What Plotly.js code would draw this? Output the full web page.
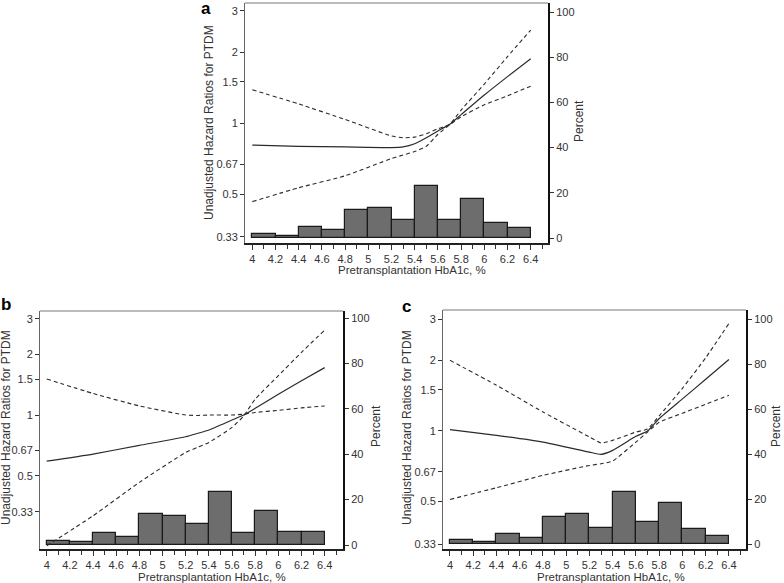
<!DOCTYPE html>
<html>
<head>
<meta charset="utf-8">
<script src="https://cdn.plot.ly/plotly-3.0.1.min.js"></script>
<style>
  html, body { margin: 0; padding: 0; background: #fff; }
  #chart { width: 784px; height: 583px; }
</style>
</head>
<body>
<div id="chart"></div>
<script>
// Гистограмма: центры интервалов HbA1c (шаг 0.2)
const binCenters = [4.1, 4.3, 4.5, 4.7, 4.9, 5.1, 5.3, 5.5, 5.7, 5.9, 6.1, 6.3];
const pctA = [1.8, 0.9, 4.7, 3.5, 12.6, 13.5, 7.9, 23.2, 8.2, 17.2, 6.7, 4.4];
const pctB = [1.8, 1.2, 5.1, 3.5, 13.7, 12.8, 9.1, 23.3, 5.3, 14.8, 5.7, 5.7];
const pctC = [1.8, 0.7, 4.3, 2.7, 11.9, 13.3, 7.0, 23.0, 9.6, 18.2, 6.5, 3.4];

// Кривые отношения рисков (HR) и доверительные границы
const xA = [4, 4.4, 4.8, 5.2, 5.3, 5.4, 5.5, 5.6, 5.7, 5.8, 6.0, 6.2, 6.4];
const hrA = [0.81, 0.80, 0.795, 0.79, 0.795, 0.82, 0.87, 0.93, 0.99, 1.09, 1.32, 1.58, 1.88];
const upA = [1.39, 1.21, 1.04, 0.885, 0.87, 0.875, 0.905, 0.95, 0.99, 1.14, 1.47, 1.92, 2.49];
const loA = [0.466, 0.534, 0.60, 0.71, 0.735, 0.76, 0.80, 0.90, 0.985, 1.067, 1.2, 1.31, 1.44];

const xB = [4, 4.4, 4.8, 5.2, 5.3, 5.4, 5.6, 5.7, 5.8, 6.0, 6.2, 6.4];
const hrB = [0.59, 0.64, 0.707, 0.78, 0.81, 0.843, 0.945, 1.0, 1.08, 1.27, 1.48, 1.72];
const upB = [1.51, 1.28, 1.11, 1.0, 0.995, 1.0, 1.0, 1.01, 1.03, 1.055, 1.085, 1.11];
const loB = [0.224, 0.316, 0.463, 0.652, 0.69, 0.731, 0.868, 0.99, 1.20, 1.57, 2.05, 2.64];

const xC = [4, 4.4, 4.8, 5.2, 5.3, 5.4, 5.6, 5.7, 5.8, 6.0, 6.2, 6.4];
const hrC = [1.013, 0.958, 0.897, 0.813, 0.795, 0.827, 0.949, 1.0, 1.13, 1.37, 1.66, 2.016];
const upC = [2.0, 1.567, 1.205, 0.943, 0.889, 0.912, 0.99, 1.02, 1.16, 1.52, 2.05, 2.87];
const loC = [0.511, 0.573, 0.647, 0.713, 0.725, 0.745, 0.897, 0.99, 1.09, 1.19, 1.30, 1.42];

const hrTicks = [0.33, 0.5, 0.67, 1, 1.5, 2, 3];
const hrTickText = ['0.33', '0.5', '0.67', '1', '1.5', '2', '3'];
const pctTicks = [0, 20, 40, 60, 80, 100];
const xTicks = [4, 4.2, 4.4, 4.6, 4.8, 5, 5.2, 5.4, 5.6, 5.8, 6, 6.2, 6.4];

const FONT = 'Liberation Sans, Arial, sans-serif';
const TXT = '#333333';
const W = 784, H = 583;

function panelTraces(xs, pct, hr, up, lo, xa, yPct, yHr) {
    const bars = {
        x: binCenters, y: pct, type: 'bar', width: 0.2,
        xaxis: xa, yaxis: yPct,
        marker: { color: '#6d6d6d', line: { color: '#1a1a1a', width: 1.2 } },
        hoverinfo: 'skip'
    };
    const mk = (y, dash, w) => ({
        x: xs, y: y, type: 'scatter', mode: 'lines',
        xaxis: xa, yaxis: yHr,
        line: { color: '#2a2a2a', width: w, dash: dash, shape: 'spline', smoothing: 0.5 }
    });
    return [bars, mk(hr, 'solid', 1.2), mk(up, '4px,3px', 1.1), mk(lo, '4px,3px', 1.1)];
}

const data = [].concat(
    panelTraces(xA, pctA, hrA, upA, loA, 'x', 'y', 'y2'),
    panelTraces(xB, pctB, hrB, upB, loB, 'x2', 'y3', 'y4'),
    panelTraces(xC, pctC, hrC, upC, loC, 'x3', 'y5', 'y6')
);

function xAxis(domain, range, anchor) {
    return {
        domain: domain, range: range, anchor: anchor,
        tickvals: xTicks, ticks: 'outside', ticklen: 5, tickwidth: 1, tickcolor: '#333',
        minor: { dtick: 0.1, tick0: 4, ticks: 'outside', ticklen: 4, tickcolor: '#333' },
        showline: true, linecolor: '#222', linewidth: 1.5,
        showgrid: false, zeroline: false,
        tickfont: { family: FONT, size: 11, color: TXT }
    };
}
function pctAxis(domain, range, anchor) {
    return {
        domain: domain, range: range, anchor: anchor, side: 'right',
        tickvals: pctTicks, ticks: 'outside', ticklen: 4, tickcolor: '#333',
        showline: true, linecolor: '#111', linewidth: 2,
        showgrid: false, zeroline: false,
        tickfont: { family: FONT, size: 11, color: TXT }
    };
}
function hrAxis(overlay, range, anchor) {
    return {
        overlaying: overlay, anchor: anchor, side: 'left', type: 'log', range: range,
        tickvals: hrTicks, ticktext: hrTickText, ticks: 'outside', ticklen: 4, tickcolor: '#333',
        showline: true, linecolor: '#666', linewidth: 1,
        showgrid: false, zeroline: false,
        tickfont: { family: FONT, size: 11, color: TXT }
    };
}
function topLine(xref, yref) {
    return { type: 'line', xref: xref + ' domain', yref: yref + ' domain',
        x0: 0, x1: 1, y0: 1, y1: 1, line: { color: '#777', width: 1 } };
}
// Подписи в пикселях от левого верхнего угла
function label(t, px, py, size, angle, bold) {
    return { text: bold ? '<b>' + t + '</b>' : t, xref: 'paper', yref: 'paper',
        x: px / W, y: 1 - py / H, xanchor: 'center', yanchor: 'middle',
        showarrow: false, textangle: angle || 0,
        font: { family: FONT, size: size, color: bold ? '#000' : TXT } };
}
const xTitle = 'Pretransplantation HbA1c, %';
const hrTitle = 'Unadjusted Hazard Ratios for PTDM';

const layout = {
    width: W, height: H,
    margin: { l: 0, r: 0, t: 0, b: 0 },
    paper_bgcolor: '#fff', plot_bgcolor: '#fff',
    showlegend: false, bargap: 0,
    font: { family: FONT, color: TXT },
    xaxis: xAxis([245 / W, 548 / W], [3.937, 6.549], 'y'),
    yaxis: pctAxis([1 - 243 / H, 1 - 3 / H], [-2.2, 104], 'x'),
    yaxis2: hrAxis('y', [-0.507, 0.511], 'x'),
    xaxis2: xAxis([40 / W, 343 / W], [3.942, 6.558], 'y3'),
    yaxis3: pctAxis([1 - 549 / H, 1 - 311 / H], [-1.76, 103.1], 'x2'),
    yaxis4: hrAxis('y3', [-0.6653, 0.5168], 'x2'),
    xaxis3: xAxis([443 / W, 746 / W], [3.94, 6.547], 'y5'),
    yaxis5: pctAxis([1 - 549 / H, 1 - 310 / H], [-2.2, 104], 'x3'),
    yaxis6: hrAxis('y5', [-0.5028, 0.5155], 'x3'),
    shapes: [topLine('x', 'y'), topLine('x2', 'y3'), topLine('x3', 'y5')],
    annotations: [
        label('a', 206, 8, 17, 0, true),
        label('b', 6, 304, 17, 0, true),
        label('c', 406, 306, 17, 0, true),
        label(xTitle, 412, 270, 11.5),
        label(xTitle, 212, 577, 11.5),
        label(xTitle, 611, 577, 11.5),
        label(hrTitle, 209, 123, 12, -90),
        label(hrTitle, 6, 428, 12, -90),
        label(hrTitle, 407, 428, 12, -90),
        label('Percent', 579, 121, 12, -90),
        label('Percent', 376, 426, 12, -90),
        label('Percent', 776, 426, 12, -90)
    ]
};

Plotly.newPlot('chart', data, layout, { displayModeBar: false, responsive: false });
</script>
</body>
</html>
